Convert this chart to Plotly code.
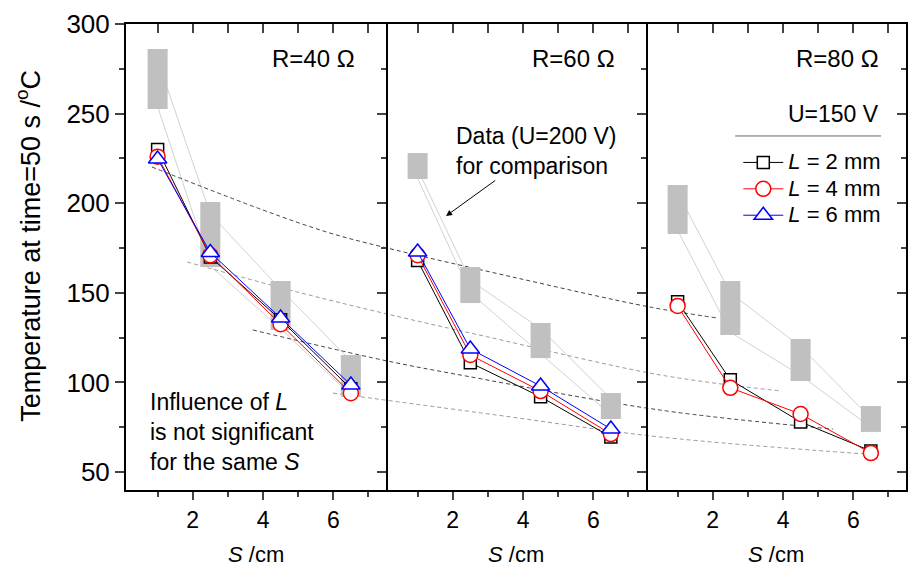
import plotly.graph_objects as go

FONT = "Liberation Sans, Arial, sans-serif"

# ---------------- data ----------------
S = [1, 2.5, 4.5, 6.5]
panels = ["R=40 Ω", "R=60 Ω", "R=80 Ω"]

# U = 150 V measurements, per panel (R=40, 60, 80)
L2 = [[230, 170, 135, 96.5], [168, 111, 92, 69.6], [145, 101.5, 78, 61.8]]
L4 = [[226, 171, 132.5, 94], [171, 115.3, 95.2, 71.2], [142.7, 97, 82.4, 60.6]]
L6 = [[224.7, 172.5, 136, 98.6], [172.8, 118.7, 98, 74], None]

# U = 200 V comparison data: range boxes (low / high) and two guide lines
U200_lo = [[252.6, 164.4, 129.3, 91.9], [213.5, 144.3, 113.6, 79.6], [182.8, 126.5, 100.8, 72.4]]
U200_hi = [[286, 200.7, 156.6, 115.3], [228, 164.4, 133.2, 94.1], [210.2, 156.6, 124.2, 86.9]]
U200_a = [[280, 194, 152, 112], [219, 157, 130, 91], [206, 150, 120, 80]]
U200_b = [[254, 165, 130, 93], [214, 150, 116, 82], [185, 128, 104, 75]]

# cross-panel trend guides (global S coordinate running across the three panels)
T1_x = [0.84, 4.0, 5.9, 7.41, 11.11, 15.01, 16.92]
T1_y = [220.2, 196.2, 183.4, 175.6, 158.8, 142.1, 136.0]
T2_x = [1.84, 4.97, 7.90, 10.4, 15.3, 18.77]
T2_y = [167.2, 150.5, 136.5, 125.4, 104.2, 95.2]
T3_x = [3.71, 7.41, 9.8, 15.3, 20.22]
T3_y = [129.3, 112.5, 103.5, 84.6, 74.0]
T4_x = [5.99, 10.66, 15.3, 21.56]
T4_y = [94.1, 81.8, 69.6, 59.5]

XR = [0.1, 7.5]
YR = [40, 300]
PW = XR[1] - XR[0]

fig = go.Figure()

# guide lines for U=200 V (full-width hidden axis, drawn underneath)
for k in range(3):
    off = k * PW
    for arr in (U200_a[k], U200_b[k]):
        fig.add_trace(go.Scatter(x=[s + off for s in S], y=arr, mode="lines",
                                 line=dict(color="#d2d2d2", width=1),
                                 xaxis="x", yaxis="y", showlegend=False, hoverinfo="skip"))

for tx, ty, col in [(T1_x, T1_y, "#444444"), (T2_x, T2_y, "#9a9a9a"),
                    (T3_x, T3_y, "#444444"), (T4_x, T4_y, "#9a9a9a")]:
    fig.add_trace(go.Scatter(x=tx, y=ty, mode="lines", line_shape="spline",
                             line=dict(color=col, width=1, dash="4px,3px"),
                             xaxis="x", yaxis="y", showlegend=False, hoverinfo="skip"))

pax = ["x2", "x3", "x4"]
for k in range(3):
    fig.add_trace(go.Bar(x=S, y=[h - l for h, l in zip(U200_hi[k], U200_lo[k])],
                         base=U200_lo[k], width=0.57,
                         marker=dict(color="#c0c0c0", line=dict(width=0)),
                         xaxis=pax[k], yaxis="y", showlegend=False, hoverinfo="skip"))

styles = [
    (L2, "<i>L</i> = 2 mm", "#000000", "square", 12),
    (L4, "<i>L</i> = 4 mm", "#ff0000", "circle", 15),
    (L6, "<i>L</i> = 6 mm", "#0000ff", "triangle-up", 16),
]
for data, name, col, sym, sz in styles:
    for k in range(3):
        if data[k] is None:
            continue
        fig.add_trace(go.Scatter(
            x=S, y=data[k], mode="lines+markers",
            name='<span style="font-size:22px">%s</span>' % name,
            line=dict(color=col, width=1),
            marker=dict(symbol=sym, size=sz, color="white", line=dict(color=col, width=1.5)),
            xaxis=pax[k], yaxis="y", showlegend=(k == 0), legendgroup=name))

# empty traces so the frame axes (top / right) get their subplots drawn
for xa, ya in [("x5", "y"), ("x6", "y"), ("x7", "y"), ("x2", "y2"), ("x3", "y3"), ("x4", "y4")]:
    fig.add_trace(go.Scatter(x=[], y=[], xaxis=xa, yaxis=ya, showlegend=False, hoverinfo="skip"))

# ---------------- layout ----------------
doms = [[0, 1 / 3], [1 / 3, 2 / 3], [2 / 3, 1]]
lay = dict(
    width=908, height=574,
    margin=dict(l=126, r=2, t=24, b=84),
    paper_bgcolor="white", plot_bgcolor="rgba(0,0,0,0)",
    barmode="overlay", font=dict(family=FONT, size=23, color="black"),
    xaxis=dict(domain=[0, 1], range=[XR[0], XR[0] + 3 * PW], visible=False, anchor="y"),
    yaxis=dict(domain=[0, 1], range=YR, anchor="x2", side="left", showline=True,
               linecolor="black", linewidth=2, ticks="outside", ticklen=9, tickwidth=1.5,
               tickvals=[50, 100, 150, 200, 250, 300], showgrid=False, zeroline=False,
               tickfont=dict(size=26),
               minor=dict(ticks="outside", ticklen=5, tickwidth=1.5,
                          tickvals=[75, 125, 175, 225, 275])),
    showlegend=True,
    legend=dict(x=0.785, y=0.742, xanchor="left", yanchor="top", bgcolor="rgba(0,0,0,0)",
                font=dict(size=18), tracegroupgap=0, itemwidth=40),
)
for k in range(3):
    lay["xaxis%d" % (k + 2)] = dict(
        domain=doms[k], range=XR, anchor="y", showline=True, linecolor="black", linewidth=2,
        ticks="outside", ticklen=8, tickwidth=1.5, tickvals=[2, 4, 6], showgrid=False,
        zeroline=False, tickfont=dict(size=23),
        minor=dict(ticks="outside", ticklen=5, tickwidth=1.5, tickvals=[1, 3, 5, 7]))
    lay["xaxis%d" % (k + 5)] = dict(
        overlaying="x%d" % (k + 2), side="top", anchor="y", range=XR, showline=True,
        linecolor="black", linewidth=2, ticks="inside", ticklen=9, tickwidth=1.5,
        tickvals=[1, 2, 3, 4, 5, 6, 7], showticklabels=False, showgrid=False, zeroline=False)
    lay["yaxis%d" % (k + 2)] = dict(
        overlaying="y", side="right", anchor="x%d" % (k + 2), range=YR, showline=True,
        linecolor="black", linewidth=2, ticks="inside", ticklen=9, tickwidth=1.5,
        tickvals=[50, 100, 150, 200, 250, 300], showticklabels=False, showgrid=False,
        zeroline=False,
        minor=dict(ticks="inside", ticklen=5, tickwidth=1.5, tickvals=[75, 125, 175, 225, 275]))
fig.update_layout(**lay)

ann = []
rx = [0.296, 0.6295, 0.968]
for k in range(3):
    ann.append(dict(text=panels[k], xref="paper", yref="paper", x=rx[k], y=0.927,
                    xanchor="right", yanchor="middle", showarrow=False, font=dict(size=24)))
    ann.append(dict(text="<i>S</i> /cm", xref="paper", yref="paper",
                    x=(doms[k][0] + doms[k][1]) / 2, y=-0.139, xanchor="center",
                    yanchor="middle", showarrow=False, font=dict(size=22)))
ann.append(dict(text="U=150 V", xref="paper", yref="paper", x=0.968, y=0.807,
                xanchor="right", yanchor="middle", showarrow=False, font=dict(size=23)))
ann.append(dict(text="Data (U=200 V)<br>for comparison", xref="x3", yref="y",
                x=1.81, y=192.9, ax=90, ay=-65, align="left",
                showarrow=True, arrowhead=2, arrowsize=1.2, arrowwidth=1, arrowcolor="black",
                font=dict(size=23)))
ann.append(dict(text="Influence of <i>L</i><br>is not significant<br>for the same <i>S</i>",
                xref="paper", yref="paper", x=0.0282, y=0.1245, xanchor="left",
                yanchor="middle", align="left", showarrow=False, font=dict(size=23)))
ann.append(dict(text="Temperature at time=50 s /<sup>o</sup>C", xref="paper", yref="paper",
                x=-0.1256, y=0.524, xanchor="center", yanchor="middle", textangle=-90,
                showarrow=False, font=dict(size=27)))
fig.update_layout(annotations=ann)
fig.add_shape(type="line", xref="paper", yref="paper", x0=0.781, x1=0.968, y0=0.7597, y1=0.7597,
              line=dict(color="#666666", width=1))

fig.write_html("out.html")
